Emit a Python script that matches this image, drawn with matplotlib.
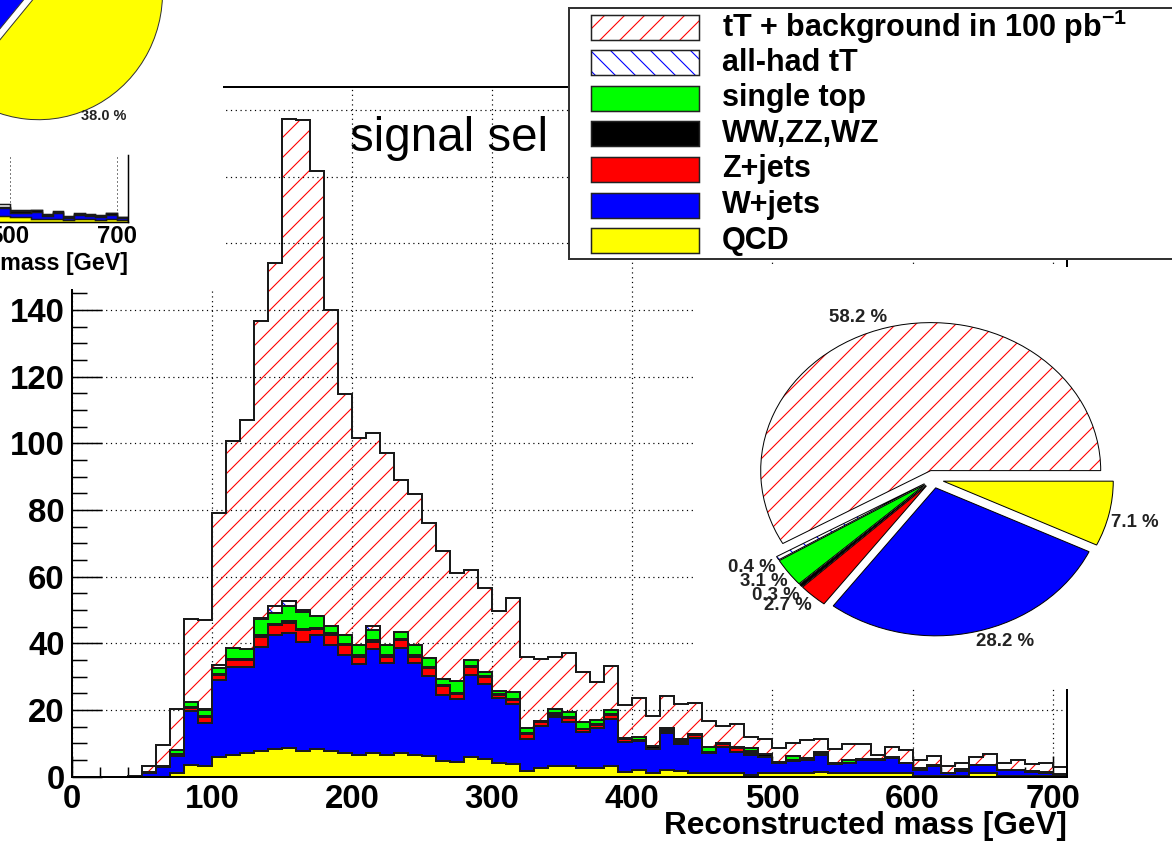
import numpy as np
import matplotlib
matplotlib.use("Agg")
import matplotlib.pyplot as plt
from matplotlib.patches import Rectangle, Wedge
from matplotlib.ticker import MultipleLocator, FixedLocator

# ---------------------------------------------------------------- data
bin_edges = np.arange(0, 711, 10)          # 71 bins of 10 GeV

qcd = [0, 0, 0, 0, 0, 0, 0, 1.2, 3.5, 3.2,
       6.0, 6.5, 7.0, 7.8, 8.2, 8.7, 7.8, 8.2, 7.8, 7.2,
       6.5, 7.2, 6.5, 7.2, 6.5, 6.2, 4.8, 4.3, 6.0, 5.2,
       4.2, 3.8, 1.8, 2.5, 3.2, 3.2, 2.5, 2.5, 3.2, 1.5,
       2.0, 1.2, 2.0, 1.8, 1.2, 1.0, 1.0, 1.2, 0.5, 1.0,
       1.0, 1.0, 1.0, 1.5, 1.0, 1.0, 1.0, 1.0, 1.0, 1.0,
       0.3, 0.3, 0.3, 0.3, 1.0, 1.0, 0.3, 0.3, 0.3, 0.3, 0.1]
wjets = [0, 0, 0, 0, 0, 1.2, 2.8, 5.0, 16.3, 12.8,
         23.0, 26.5, 26.0, 31.2, 34.3, 34.3, 32.7, 34.3, 31.7, 29.3,
         27.3, 31.0, 27.5, 31.3, 27.5, 24.0, 19.7, 19.0, 24.5, 22.6,
         19.5, 18.0, 9.4, 12.8, 14.6, 13.3, 11.0, 12.0, 14.0, 9.0,
         8.8, 7.0, 11.0, 8.0, 10.3, 6.0, 8.0, 6.3, 6.0, 5.0,
         3.0, 3.8, 4.0, 5.0, 2.8, 3.0, 4.0, 4.0, 4.5, 3.0,
         1.7, 2.9, 0.7, 1.4, 2.5, 2.5, 1.7, 1.7, 1.2, 0.7, 0.3]
zjets = [0, 0, 0, 0, 0, 0, 0, 0.4, 0.8, 2.0,
         1.5, 2.0, 2.0, 3.0, 3.0, 3.2, 3.5, 1.7, 3.0, 3.0,
         2.2, 2.3, 2.0, 2.5, 2.0, 2.3, 2.8, 1.5, 2.3, 2.0,
         0.8, 1.2, 1.6, 1.2, 0.8, 1.2, 0.7, 1.0, 1.3, 0.7,
         0, 0, 0.8, 0.7, 1.0, 0, 0.7, 1.0, 0.7, 0,
         0, 0, 0, 0, 0, 0, 0, 0, 0, 0,
         0, 0, 0, 0, 0, 0, 0, 0, 0, 0, 0]
diboson = [0, 0, 0, 0, 0, 0.3, 0.4, 0.3, 0.2, 0.2,
           0.3, 0.3, 0.3, 0.4, 0.4, 0.4, 0.4, 0.4, 0.5, 0.4,
           0.4, 0.4, 0.4, 0.3, 0.4, 0.3, 0.3, 0.4, 0.4, 0.3,
           0.3, 0.3, 0.3, 0.3, 0.4, 0.3, 0.2, 0.2, 0.3, 0.5,
           0.2, 1.0, 0.2, 0.2, 0.2, 0.3, 0.2, 0.3, 0.5, 0.7,
           0.3, 0.3, 0.2, 0.2, 0.3, 0.2, 0.3, 0.3, 0.5, 0.2,
           0.2, 0.2, 0.2, 0.1, 0.1, 0.1, 0.1, 0.1, 0.2, 0.4, 0.3]
single_top = [0, 0, 0, 0, 0, 0, 0, 1.2, 1.6, 1.8,
              1.8, 3.2, 3.0, 5.0, 3.2, 4.5, 4.9, 3.5, 2.2, 2.7,
              3.2, 3.2, 3.2, 2.0, 3.2, 2.7, 1.6, 3.4, 1.9, 1.4,
              0.8, 2.2, 1.4, 0, 1.2, 1.3, 2.0, 1.4, 1.3, 0,
              1.0, 0, 0.6, 0.6, 0.2, 1.7, 0.3, 0, 1.0, 0,
              0, 1.2, 0.5, 0.7, 0, 0.7, 0, 0, 0, 0,
              0.5, 0, 0, 0.6, 0, 0, 0, 0, 0, 0, 0]
allhad_tt = [0, 0, 0, 0, 0, 0, 0, 0, 0, 0.4,
             1.0, 0, 0, 0.2, 2.0, 1.7, 0.8, 0.2, 0, 0,
             0, 1.0, 0, 0, 0, 0, 0, 0, 0, 0,
             0, 0, 0, 0, 0, 0, 0, 0, 0, 0,
             0, 0, 0, 0, 0, 0, 0, 0, 0, 0,
             0, 0, 0, 0, 0, 0, 0, 0, 0, 0,
             0, 0, 0, 0, 0, 0, 0, 0, 0, 0, 0]
ttbar = [0, 0, 0, 0, 0.3, 1.8, 6.3, 12.1, 24.8, 26.6,
         45.4, 62.3, 68.7, 89.2, 102.9, 144.5, 146.9, 133.4, 94.8, 72.2,
         62.1, 57.9, 57.4, 45.7, 45.2, 40.7, 38.6, 32.6, 26.9, 25.0,
         24.2, 28.2, 21.5, 18.4, 15.8, 17.7, 15.1, 11.4, 13.1, 9.8,
         11.5, 9.0, 9.7, 10.4, 9.3, 7.8, 5.0, 6.9, 3.3, 4.6,
         4.4, 3.7, 5.3, 3.9, 4.1, 4.8, 4.4, 1.2, 3.0, 3.8,
         2.3, 2.8, 2.1, 1.8, 2.2, 3.1, 2.1, 2.9, 2.1, 2.8, 2.1]

legend_labels = ["tT + background in 100 pb$^{-1}$", "all-had tT", "single top",
                 "WW,ZZ,WZ", "Z+jets", "W+jets", "QCD"]
pie_pct = [58.2, 0.4, 3.1, 0.3, 2.7, 28.2, 7.1]   # same order as legend

inset_edges = np.arange(480, 721, 20)
inset_qcd = [2.1, 1.9, 1.9, 1.2, 1.1, 1.2, 0.9, 1.1, 1.0, 0.9, 1.1, 0.8]
inset_wjets = [3.0, 1.5, 1.5, 2.6, 1.2, 2.0, 0.6, 1.6, 1.3, 1.0, 1.6, 0.7]
inset_diboson = [0.5, 0.6, 0.6, 0.5, 0.4, 0.5, 0.3, 0.4, 0.4, 0.3, 0.5, 0.3]
inset_ttbar = [1.0, 0.4, 0.4, 0.3, 0.4, 0.3, 0.3, 0.4, 0.4, 0.3, 0.3, 0.1]
inset_pie_pct = [38.0, 35.0, 2.0, 3.0, 22.0]   # QCD, tT, single top, Z+jets, W+jets

# ---------------------------------------------------------------- style
W_PX, H_PX, DPI = 1172, 847, 120
PT = 72.0 / DPI          # points per pixel

plt.rcParams['font.family'] = ['Liberation Sans', 'DejaVu Sans']
plt.rcParams['font.weight'] = 'bold'
plt.rcParams['axes.labelweight'] = 'bold'
plt.rcParams['hatch.linewidth'] = 1.1 * PT
plt.rcParams['mathtext.fontset'] = 'custom'
plt.rcParams['mathtext.rm'] = 'Liberation Sans:bold'
plt.rcParams['mathtext.bf'] = 'Liberation Sans:bold'
plt.rcParams['mathtext.it'] = 'Liberation Sans:bold'

S_TT = dict(color='red', hatch='//')
S_AH = dict(color='blue', hatch='\\\\')
S_ST = dict(color='#00ff00')
S_DB = dict(color='black')
S_Z = dict(color='#ff0000')
S_W = dict(color='#0000ff')
S_Q = dict(color='#ffff00')
legend_styles = [S_TT, S_AH, S_ST, S_DB, S_Z, S_W, S_Q]


def frac(x0, y0, x1, y1):
    return [x0 / W_PX, 1 - y1 / H_PX, (x1 - x0) / W_PX, (y1 - y0) / H_PX]


def draw_stack(ax, edges, layers, lw):
    cums = np.cumsum(np.array([np.asarray(v, float) for v, _ in layers]), axis=0)
    for (vals, st), cum in reversed(list(zip(layers, cums))):
        if st.get('hatch'):
            ax.stairs(cum, edges, baseline=0, fill=True, facecolor='none',
                      edgecolor=st['color'], hatch=st['hatch'], linewidth=0)
        else:
            ax.stairs(cum, edges, baseline=0, fill=True, facecolor=st['color'],
                      edgecolor=st['color'], linewidth=0)
        ax.stairs(cum, edges, baseline=0, fill=False, color='#1a1a1a', linewidth=lw)


def hide_frame(ax):
    ax.set_xticks([])
    ax.set_yticks([])
    for s in ax.spines.values():
        s.set_visible(False)


def style_pie(ax, wedges, styles, lw):
    for w, st in zip(wedges, styles):
        if st.get('hatch'):
            w.set_facecolor('white')
            w.set_edgecolor(st['color'])
            w.set_hatch(st['hatch'])
            w.set_linewidth(0)
            ax.add_patch(Wedge(w.center, w.r, w.theta1, w.theta2, fill=False,
                               edgecolor='black', linewidth=lw))


fig = plt.figure(figsize=(W_PX / DPI, H_PX / DPI), dpi=DPI)

# ---------------------------------------------------------------- main histogram
ax = fig.add_axes(frac(71.7, 87, 1066.7, 776.7))
ax.set_xlim(0, 710)
ax.set_ylim(0, 206.9)
ax.set_axisbelow(True)
ax.grid(True, which='major', color='black', linestyle=(0, (1, 3)), linewidth=1.2 * PT)

draw_stack(ax, bin_edges,
           [(qcd, S_Q), (wjets, S_W), (zjets, S_Z), (diboson, S_DB),
            (single_top, S_ST), (allhad_tt, S_AH), (ttbar, S_TT)],
           lw=2.0 * PT)

ax.xaxis.set_major_locator(MultipleLocator(100))
ax.xaxis.set_minor_locator(MultipleLocator(20))
ax.yaxis.set_major_locator(MultipleLocator(20))
ax.yaxis.set_minor_locator(MultipleLocator(5))
ax.tick_params(which='both', direction='in', top=False, right=False,
               width=1.5 * PT, color='black')
ax.tick_params(axis='x', which='major', length=20.7 * PT, pad=7 * PT, labelsize=33 * PT)
ax.tick_params(axis='x', which='minor', length=10.3 * PT)
ax.tick_params(axis='y', which='major', length=30 * PT, pad=7 * PT, labelsize=33 * PT)
ax.tick_params(axis='y', which='minor', length=15 * PT)
for s in ax.spines.values():
    s.set_linewidth(2.0 * PT)
    s.set_color('black')
ax.set_xlabel('Reconstructed mass [GeV]', fontsize=31.5 * PT, fontweight='bold', loc='right')
ax.xaxis.set_label_coords(1.0, -(811 - 776.7) / 689.7)

fig.text(350 / W_PX, 1 - 151 / H_PX, 'signal sel', fontsize=47.5 * PT,
         fontweight='normal', ha='left', va='baseline')

# ---------------------------------------------------------------- overlapping pads
for (x0, y0, x1, y1) in [(0, 0, 223, 289), (693, 267, 1185, 689)]:
    fig.add_artist(Rectangle((x0 / W_PX, 1 - y1 / H_PX), (x1 - x0) / W_PX, (y1 - y0) / H_PX,
                             transform=fig.transFigure, facecolor='white',
                             edgecolor='none', zorder=1))

# fragment of another pie (top-left)
ax_fp = fig.add_axes(frac(0, 0, 223, 152))
ax_fp.set_zorder(2)
frag_styles = [S_Q, S_TT, S_ST, S_Z, S_W]
fw, ft = ax_fp.pie(inset_pie_pct, colors=[s['color'] for s in frag_styles],
                   startangle=230, counterclock=True,
                   explode=[0.06, 0, 0, 0, 0],
                   labels=[f'{inset_pie_pct[0]:.1f} %', '', '', '', ''],
                   labeldistance=1.1, frame=True,
                   wedgeprops=dict(edgecolor='#333333', linewidth=1.0 * PT),
                   textprops=dict(fontsize=14.5 * PT, fontweight='bold', color='#222222'))
style_pie(ax_fp, fw, frag_styles, 1.0 * PT)
ft[0].set_ha('center')
ft[0].set_va('center')
ax_fp.set_aspect('auto')
ax_fp.set_xlim(-35 / 124, (223 - 35) / 124)
ax_fp.set_ylim((-14 - 152) / 127, -14 / 127)
hide_frame(ax_fp)
ax_fp.patch.set_visible(False)

# fragment of another histogram (top-left)
ax_in = fig.add_axes(frac(-259, 155, 127.7, 222))
ax_in.set_zorder(2)
ax_in.set_xlim(0, 720)
ax_in.set_ylim(0, 25)
ax_in.patch.set_visible(False)
draw_stack(ax_in, inset_edges,
           [(inset_qcd, S_Q), (inset_wjets, S_W), (inset_diboson, S_DB), (inset_ttbar, S_TT)],
           lw=1.5 * PT)
ax_in.xaxis.set_major_locator(FixedLocator([100, 300, 500, 700]))
ax_in.grid(True, axis='x', color='black', linestyle=(0, (1, 3)), linewidth=1.0 * PT)
ax_in.set_axisbelow(True)
ax_in.set_yticks([])
ax_in.tick_params(axis='x', direction='in', length=0, pad=3 * PT, labelsize=24 * PT)
ax_in.spines['top'].set_visible(False)
ax_in.spines['left'].set_visible(False)
ax_in.spines['right'].set_linewidth(1.5 * PT)
ax_in.spines['bottom'].set_linewidth(1.5 * PT)
ax_in.set_xlabel('Reconstructed mass [GeV]', fontsize=23.3 * PT, fontweight='bold', loc='right')
ax_in.xaxis.set_label_coords(1.0, -(252 - 222) / 67)

# main pie chart
ax_p = fig.add_axes(frac(693, 267, 1172, 689))
ax_p.set_zorder(2)
pw, pt_ = ax_p.pie(pie_pct, colors=[s['color'] for s in legend_styles],
                   startangle=0, counterclock=True, explode=[0.06] * len(pie_pct),
                   labels=[f'{v:.1f} %' for v in pie_pct], labeldistance=1.01,
                   frame=True,
                   wedgeprops=dict(edgecolor='black', linewidth=1.0 * PT),
                   textprops=dict(fontsize=18.6 * PT, fontweight='bold', color='#222222'))
style_pie(ax_p, pw, legend_styles, 1.0 * PT)
for t in pt_:
    t.set_va('bottom' if t.get_position()[1] > 0 else 'top')
ax_p.set_aspect('auto')
ax_p.set_xlim((693 - 933.3) / 170, (1172 - 933.3) / 170)
ax_p.set_ylim((479.2 - 689) / 148, (479.2 - 267) / 148)
hide_frame(ax_p)
ax_p.patch.set_visible(False)

# legend pad
ax_l = fig.add_axes(frac(569, 8, 1190, 259))
ax_l.set_zorder(3)
ax_l.set_xlim(0, 621)
ax_l.set_ylim(251, 0)
ax_l.set_xticks([])
ax_l.set_yticks([])
for s in ax_l.spines.values():
    s.set_color('#333333')
    s.set_linewidth(2.0 * PT)
for i, (lab, st) in enumerate(zip(legend_labels, legend_styles)):
    yc = 19 + i * 35.6
    if st.get('hatch'):
        ax_l.add_patch(Rectangle((22, yc - 12.5), 108, 25, facecolor='white',
                                 edgecolor=st['color'], hatch=st['hatch'], linewidth=0))
        ax_l.add_patch(Rectangle((22, yc - 12.5), 108, 25, fill=False,
                                 edgecolor='#222222', linewidth=1.5 * PT))
    else:
        ax_l.add_patch(Rectangle((22, yc - 12.5), 108, 25, facecolor=st['color'],
                                 edgecolor='#222222', linewidth=1.5 * PT))
    ax_l.text(153, yc, lab, fontsize=30.5 * PT, fontweight='bold',
              ha='left', va='center', color='black')

fig.savefig('out.png', dpi=DPI)
